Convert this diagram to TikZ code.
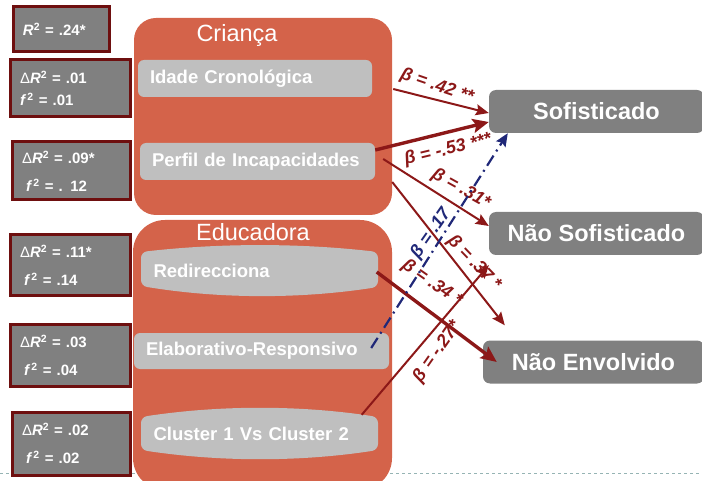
\documentclass[tikz,border=0pt]{standalone}
\usepackage{fontspec}
\setmainfont{Liberation Sans}
\usetikzlibrary{arrows.meta}
\definecolor{laranja}{RGB}{212,99,74}
\definecolor{cinzaclaro}{RGB}{191,191,191}
\definecolor{cinzaescuro}{RGB}{128,128,128}
\definecolor{bordo}{RGB}{110,15,15}
\definecolor{vermelho}{RGB}{140,24,24}
\definecolor{azul}{RGB}{32,40,120}
\definecolor{tracejado}{RGB}{150,180,180}

\begin{document}
\begin{tikzpicture}[x=1pt,y=-1pt,
    grupo/.style={fill=laranja, rounded corners=22pt},
    titulo/.style={text=white, font=\fontsize{23.5}{28}\selectfont},
    var/.style={fill=cinzaclaro, rounded corners=6pt, text=white, align=left,
      inner xsep=12pt, font=\fontsize{18.5}{22}\selectfont\bfseries},
    stat/.style={fill=cinzaescuro, draw=bordo, line width=3pt, text=white, align=left,
      inner xsep=10pt, font=\fontsize{15}{22}\selectfont\bfseries},
    alvo/.style={fill=cinzaescuro, rounded corners=7pt, text=white, minimum height=43pt,
      font=\fontsize{23.5}{28}\selectfont\bfseries},
    beta/.style={text=vermelho, inner sep=0pt, font=\fontsize{18}{21}\selectfont\bfseries\itshape},
    seta/.style={-{Stealth[length=13pt,width=11pt,inset=2pt]}, draw=vermelho, line width=2pt},
    forte/.style={-{Stealth[length=16pt,width=14pt,inset=3pt]}, draw=vermelho, line width=3.4pt},
    pontos/.style={-{Stealth[length=13pt,width=11pt,inset=2pt]}, draw=azul, line width=2.2pt,
      dash pattern=on 12pt off 5pt on 2pt off 5pt}]
        \clip (0,0) rectangle (702,481);
        \draw[tracejado, line width=0.8pt, dash pattern=on 3pt off 3pt] (0,473) -- (702,473);

        % efeitos de cada bloco
        \node[stat, text width=76pt, minimum height=45pt] (s0) at (61,29.5)
          {{\itshape R}\textsuperscript{2} = .24*};
        \node[stat, text width=100pt, minimum height=57pt] (s1) at (70,88.5)
          {{\mdseries Δ}{\itshape R}\textsuperscript{2} = .01\\{\itshape f}\,\textsuperscript{2} = .01};
        \node[stat, text width=98pt, minimum height=58pt] (s2) at (71,171)
          {{\mdseries Δ}{\itshape R}\textsuperscript{2} = .09*\\[6pt]\hspace{4pt}{\itshape f}\,\textsuperscript{2} = . 12};
        \node[stat, text width=100pt, minimum height=61pt] (s3) at (70,265.5)
          {{\mdseries Δ}{\itshape R}\textsuperscript{2} = .11*\\[6pt]\hspace{4pt}{\itshape f}\,\textsuperscript{2} = .14};
        \node[stat, text width=100pt, minimum height=61pt] (s4) at (70,355.5)
          {{\mdseries Δ}{\itshape R}\textsuperscript{2} = .03\\[6pt]\hspace{4pt}{\itshape f}\,\textsuperscript{2} = .04};
        \node[stat, text width=98pt, minimum height=63pt] (s5) at (71,443.5)
          {{\mdseries Δ}{\itshape R}\textsuperscript{2} = .02\\[6pt]\hspace{4pt}{\itshape f}\,\textsuperscript{2} = .02};

        % blocos de preditores
        \node[grupo, minimum width=258pt, minimum height=197pt] (crianca) at (263,116.5) {};
        \node[titulo] (tcrianca) at (237,35) {Criança};
        \node[grupo, rounded corners=32pt, minimum width=259pt, minimum height=270pt] (educadora) at (262.5,355) {};
        \node[titulo] (teducadora) at (253,232) {Educadora};

        \node[var, text width=210pt, minimum height=37pt] (idade) at (255,78.5) {Idade Cronológica};
        \node[var, text width=211pt, minimum height=37pt] (perfil) at (257.5,161.5) {Perfil de Incapacidades};
        \fill[cinzaclaro, rounded corners=6pt] (141,252) .. controls (220,243) and (300,243) .. (378,252)
          -- (378,287) .. controls (300,299) and (220,299) .. (141,286) -- cycle;
        \node[var, fill=none, text width=212pt, minimum height=44pt] (redir) at (259.5,271) {Redirecciona};
        \node[var, text width=231pt, minimum height=36pt] (elab) at (261.5,351) {Elaborativo-Responsivo};
        \fill[cinzaclaro, rounded corners=6pt] (141,417) .. controls (220,405) and (300,405) .. (378,417)
          -- (378,450) .. controls (300,462) and (220,462) .. (141,450) -- cycle;
        \node[var, fill=none, text width=212pt, minimum height=50pt] (cluster) at (259.5,433.5) {Cluster 1 Vs Cluster 2};

        % estilos de envolvimento
        \node[alvo, minimum width=215pt] (sof) at (596.5,111.5) {Sofisticado};
        \node[alvo, minimum width=215pt] (naosof) at (596.5,233.5) {Não Sofisticado};
        \node[alvo, minimum width=221pt] (envolv) at (593.5,362) {Não Envolvido};

        % coeficientes
        \node[beta, rotate=-19] (b1) at (437,86) {β = .42 **};
        \node[beta, rotate=13.5] (b2) at (448,150) {β = -.53 ***};
        \node[beta, rotate=-29] (b3) at (461,189) {β = .31*};
        \node[beta, rotate=-46] (b4) at (474,263) {β = .37 *};
        \node[beta, rotate=-35] (b5) at (432,283) {β = .34 *};
        \node[beta, rotate=55] (b6) at (437,352) {β = -.27*};
        \node[beta, text=azul, rotate=55] (b7) at (431,234) {β = .17};

        \coordinate (e4) at ([xshift=22pt,yshift=15pt]envolv.north west);
        \coordinate (e6) at ([yshift=-10pt]naosof.south west);

        \path ([xshift=21pt,yshift=-10.5pt]idade.east) edge[seta] ([yshift=-1.5pt]sof.west);
        \path ([yshift=11.5pt]perfil.east) edge[forte] ([yshift=-10.5pt]sof.west);
        \path ([xshift=8pt,yshift=2.5pt]perfil.east) edge[seta] ([yshift=7.5pt]naosof.west);
        \path ([xshift=17pt,yshift=-20.5pt]perfil.east) edge[seta] (e4);
        \path ([xshift=-1pt,yshift=-1pt]redir.east) edge[forte] ([xshift=14pt]envolv.west);
        \path ([xshift=-16pt,yshift=-6.5pt]cluster.north east) edge[seta] (e6);
        \path ([xshift=-18pt,yshift=3pt]elab.east) edge[pontos] ([xshift=19pt]sof.south west);
\end{tikzpicture}
\end{document}
